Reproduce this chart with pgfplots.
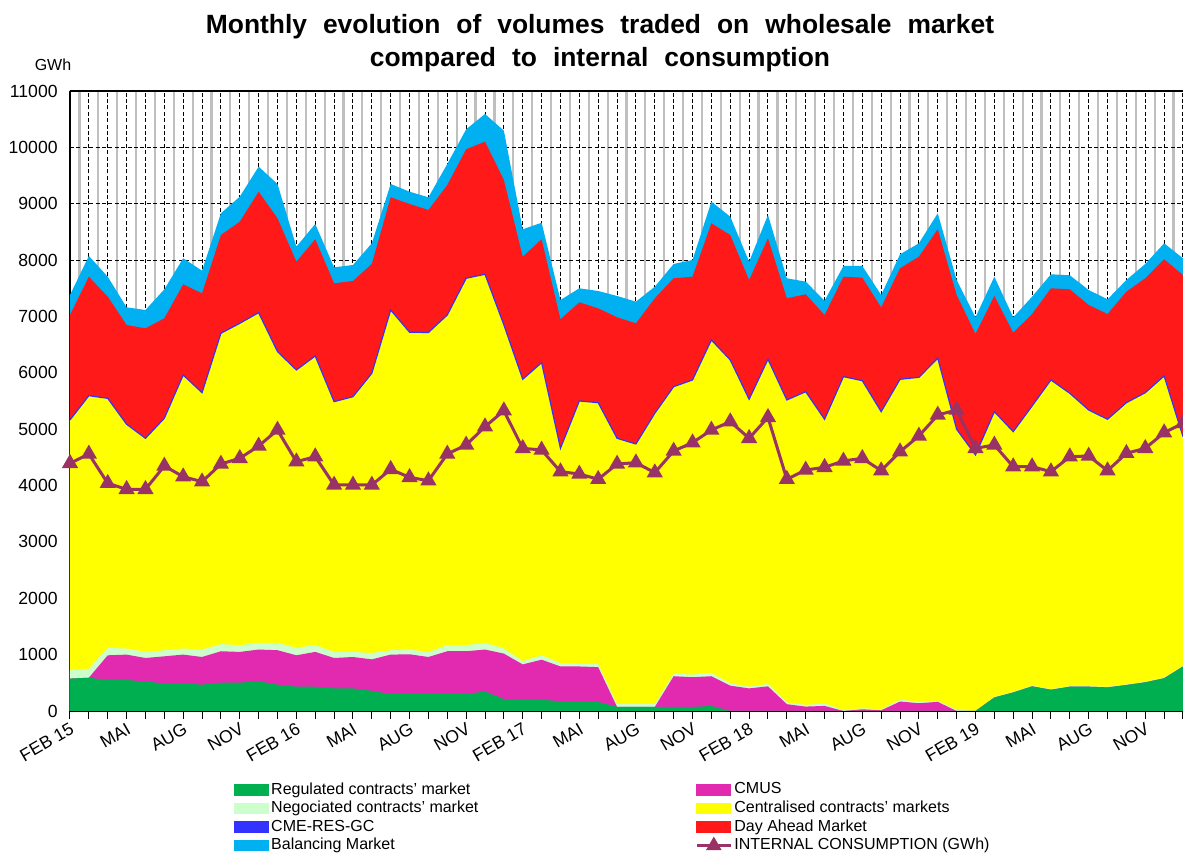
\documentclass[border=0pt]{standalone}
\usepackage{fontspec}
\setmainfont{Liberation Sans}
\usepackage{pgfplots}
\pgfplotsset{compat=1.18}
\usepackage{pgfplotstable}

\definecolor{regul}{HTML}{00B050}
\definecolor{negoc}{HTML}{CCFFCC}
\definecolor{cmus}{HTML}{E22AB0}
\definecolor{centr}{HTML}{FFFF00}
\definecolor{cme}{HTML}{3333FF}
\definecolor{dam}{HTML}{FF1919}
\definecolor{bal}{HTML}{00B0F0}
\definecolor{cons}{HTML}{993366}

% cumulative tops of the stacked areas (GWh), consumption in C
% G=regulated, M=+CMUS, L=+negociated, Y=+centralised/CME, R=+day ahead, T=+balancing
\pgfplotstableread{
i  G    M    L    Y    R     T     C
0  575  575  720  5163 7026  7381  4394
1  590  590  750  5594 7705  8073  4560
2  551  988  1120 5547 7350  7705  4040
3  551  1000 1108 5087 6848  7162  3933
4  521  940  1048 4838 6789  7114  3933
5  491  970  1078 5193 6966  7481  4347
6  491  1000 1108 5961 7570  8032  4157
7  467  958  1090 5647 7411  7812  4068
8  503  1060 1186 6701 8445  8830  4382
9  503  1048 1168 6878 8681  9125  4483
10 527  1090 1210 7067 9213  9657  4702
11 467  1078 1210 6375 8741  9350  4985
12 431  988  1120 6050 7972  8238  4423
13 431  1048 1168 6298 8369  8640  4512
14 401  940  1048 5488 7588  7871  4010
15 401  958  1048 5576 7629  7913  4010
16 359  916  1030 5991 7931  8298  4010
17 299  1000 1078 7114 9114  9350  4288
18 299  1006 1090 6720 8995  9213  4145
19 299  958  1048 6715 8889  9114  4086
20 299  1060 1168 7026 9332  9705  4560
21 299  1060 1168 7677 9966  10320 4720
22 347  1090 1210 7748 10101 10592 5044
23 210  1018 1108 6850 9421  10296 5328
24 198  826  886  5885 8060  8546  4660
25 198  910  988  6180 8369  8663  4631
26 174  790  850  4660 6950  7292  4246
27 174  790  838  5500 7251  7499  4205
28 162  778  830  5470 7144  7451  4111
29 72   72   120  4838 6985  7363  4382
30 72   72   120  4737 6878  7262  4405
31 72   72   120  5282 7322  7528  4228
32 72   617  659  5754 7677  7931  4613
33 72   599  647  5873 7705  8002  4760
34 90   617  677  6582 8652  9036  4985
35 0    449  491  6228 8445  8770  5133
36 0    401  431  5530 7647  7972  4838
37 0    437  479  6240 8386  8800  5210
38 0    120  150  5518 7322  7677  4111
39 0    78   108  5665 7393  7617  4276
40 0    90   132  5175 7026  7280  4323
41 0    0    12   5932 7705  7895  4436
42 0    30   48   5860 7688  7895  4483
43 0    12   30   5310 7162  7381  4264
44 0    168  198  5885 7854  8102  4600
45 0    138  168  5920 8060  8298  4879
46 0    162  180  6258 8546  8830  5252
47 0    0    20   4998 7381  7647  5340
48 0    0    0    4542 6689  6985  4660
49 240  240  250  5310 7363  7705  4720
50 329  329  339  4956 6712  6985  4335
51 437  437  447  5411 7043  7350  4335
52 377  377  387  5873 7499  7748  4246
53 431  431  441  5636 7481  7730  4512
54 431  431  441  5340 7203  7469  4524
55 419  419  429  5175 7043  7304  4264
56 461  461  471  5470 7439  7647  4572
57 509  509  519  5647 7677  7931  4660
58 581  581  591  5944 8014  8298  4938
59 790  790  800  4867 7735  8032  5104
}\vol

\pgfplotsset{swatch/.style={legend image code/.code={\fill[##1] (0pt,-2.6pt) rectangle (17pt,2.6pt);}}}

\begin{document}
\begin{tikzpicture}
\path[use as bounding box] (-35pt,-71.5pt) rectangle (556.5pt,355.5pt);
\begin{axis}[
    scale only axis,
    width=556.5pt, height=310pt,
    xmin=0, xmax=59, ymin=0, ymax=11000,
    axis x line*=bottom, axis y line*=left,
    axis line style={-, black, line width=1pt},
    xtick={0,3,...,57},
    xticklabels={FEB 15,MAI,AUG,NOV,FEB 16,MAI,AUG,NOV,FEB 17,MAI,AUG,NOV,FEB 18,MAI,AUG,NOV,FEB 19,MAI,AUG,NOV},
    minor xtick={0.5,1.5,...,58.5},
    extra x ticks={0,...,59},
    extra x tick labels={},
    extra x tick style={xmajorgrids},
    ytick={0,1000,...,11000},
    scaled y ticks=false,
    yticklabel style={/pgf/number format/1000 sep={}},
    /pgf/number format/assume math mode=true,
    xmajorgrids, xminorgrids, ymajorgrids,
    major grid style={black, line width=0.5pt, dash pattern=on 2pt off 1.2pt},
    minor grid style={black!25, line width=1.1pt},
    tick align=outside,
    major tick length=4pt, minor tick length=0pt,
    xtick style={black, line width=0.5pt},
    ytick style={draw=none},
    tick label style={font=\fontsize{8.8}{10}\selectfont},
    xticklabel style={rotate=30, anchor=north east, inner sep=1pt},
    yticklabel style={inner sep=2pt, xshift=0pt},
    legend columns=2,
    legend cell align=left,
    legend style={at={(axis description cs:0.142,-0.105)}, anchor=north west,
        draw=none, fill=none, font=\fontsize{8}{9.6}\selectfont,
        row sep=0pt, nodes={inner sep=1pt}},
]
\addlegendimage{swatch, regul}
\addlegendimage{swatch, cmus}
\addlegendimage{swatch, negoc}
\addlegendimage{swatch, centr}
\addlegendimage{swatch, cme}
\addlegendimage{swatch, dam}
\addlegendimage{swatch, bal}
\addlegendimage{cons, line width=1.5pt, mark=triangle*, mark size=3pt}

\addplot[draw=none, fill=bal, forget plot] table[x=i, y=T] {\vol} \closedcycle;
\addplot[draw=none, fill=dam, forget plot] table[x=i, y=R] {\vol} \closedcycle;
\addplot[draw=none, fill=centr, forget plot] table[x=i, y=Y] {\vol} \closedcycle;
\addplot[cme, line width=0.6pt, forget plot] table[x=i, y=Y] {\vol};
\addplot[draw=none, fill=negoc, forget plot] table[x=i, y=L] {\vol} \closedcycle;
\addplot[draw=none, fill=cmus, forget plot] table[x=i, y=M] {\vol} \closedcycle;
\addplot[draw=none, fill=regul, forget plot] table[x=i, y=G] {\vol} \closedcycle;
\addplot[cons, line width=1.5pt, mark=triangle*, mark size=3.2pt, forget plot] table[x=i, y=C] {\vol};

\draw[black, line width=0.6pt] (rel axis cs:0,1) -- (rel axis cs:1,1);

\legend{\makebox[211pt][l]{Regulated contracts' market}, CMUS,
        \makebox[211pt][l]{Negociated contracts' market}, Centralised contracts' markets,
        \makebox[211pt][l]{CME-RES-GC}, Day Ahead Market,
        \makebox[211pt][l]{Balancing Market}, INTERNAL CONSUMPTION (GWh)}
\end{axis}
\node[font=\fontsize{8}{9.6}\selectfont] at (-8.5pt,323pt) {GWh};
\node[font=\bfseries\fontsize{13.2}{16.5}\selectfont, align=center, execute at begin node={\spaceskip=8pt plus 1pt}]
    at (265pt,334pt) {Monthly evolution of volumes traded on wholesale market\\compared to internal consumption};
\end{tikzpicture}
\end{document}
